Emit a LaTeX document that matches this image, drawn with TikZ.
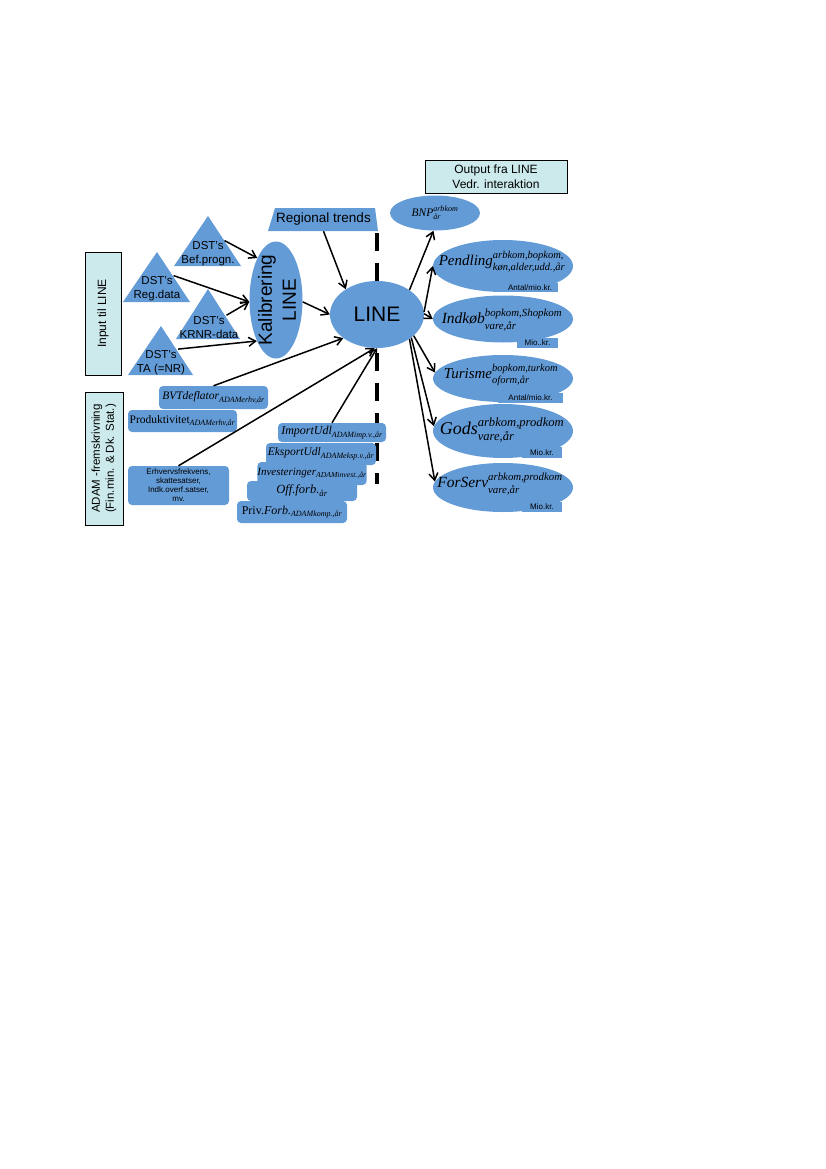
\documentclass[tikz,border=0pt]{standalone}
\usepackage{amsmath}
\usepackage{fontspec}
\setmainfont{Liberation Sans}
\newfontfamily\tms{Liberation Serif}
\usetikzlibrary{arrows.meta,shapes.geometric}
\definecolor{blu}{RGB}{99,155,215}
\definecolor{cyanbox}{RGB}{204,234,236}
\newcommand\fsz[2]{\fontsize{#1}{#2}\selectfont}
\newcommand\olab[3]{$\text{\tms\itshape #1}^{\text{\tms\itshape #2}}_{\text{\tms\itshape #3}}$}
\newcommand\slab[2]{$\text{\tms\itshape #1}_{\text{\tms\itshape #2}}$}
\begin{document}
\begin{tikzpicture}[x=1pt,y=-1pt,
  ell/.style={ellipse, fill=blu, inner sep=0pt},
  rbox/.style={fill=blu, rounded corners=4pt, inner sep=0pt, align=center},
  cbox/.style={fill=cyanbox, draw=black, line width=0.8pt, inner sep=0pt, align=center},
  arr/.style={-{Straight Barb[length=7pt,width=9pt]}, line width=1.5pt},
  txt/.style={inner sep=1pt, align=center, font=\fsz{11.5}{14}},
  unitbox/.style={fill=blu, inner sep=0pt, font=\fsz{8}{9}},
  lbl/.style={inner sep=0pt}]
\useasboundingbox (0,0) rectangle (826,1169);
% divider
\coordinate (dtop) at (377,233);
\coordinate (dbot) at (377,484);
\draw[line width=4.5pt, dash pattern=on 18pt off 12pt] (dtop) -- (dbot);
% triangles and trapezoid
\fill[blu] (208,216) -- (241,266) -- (174,266) -- cycle;
\fill[blu] (157,252) -- (190,302) -- (123,302) -- cycle;
\fill[blu] (208,289) -- (240,339) -- (176,339) -- cycle;
\fill[blu] (161,326) -- (193,375) -- (128,375) -- cycle;
\fill[blu] (275,208) -- (375,208) -- (378,231) -- (268,231) -- cycle;
% ellipses
\node[ell, minimum width=53, minimum height=117] (kal) at (276,300) {};
\node[ell, minimum width=94, minimum height=67, font=\fsz{21}{24}] (line) at (377,314.5) {LINE};
\node[ell, minimum width=90, minimum height=35] (bnp) at (435,213) {};
\node[ell, minimum width=140, minimum height=52] (pend) at (503,266) {};
\node[ell, minimum width=140, minimum height=47] (indk) at (503,319) {};
\node[ell, minimum width=140, minimum height=47] (turi) at (503,378.5) {};
\node[ell, minimum width=140, minimum height=54] (gods) at (503,431) {};
\node[ell, minimum width=140, minimum height=49] (fors) at (503,487.5) {};
% unit labels
\node[unitbox, minimum width=56, minimum height=9] (pendu) at (530,287.5) {Antal/mio.kr.};
\node[unitbox, minimum width=41, minimum height=10] (indku) at (537.5,343) {Mio..kr.};
\node[unitbox, minimum width=65, minimum height=10] (turiu) at (530.5,398) {Antal/mio.kr.};
\node[unitbox, minimum width=40, minimum height=11] (godsu) at (542,452.5) {Mio.kr.};
\node[unitbox, minimum width=40, minimum height=10] (forsu) at (542,507) {Mio.kr.};
% output labels
\node[lbl, font=\fsz{11.5}{14}] (bnpt) at (435,213) {\olab{BNP}{arbkom}{år}};
\node[lbl, font=\fsz{15}{18}] (pendt) at (502,262) {\olab{Pendling}{arbkom,bopkom,}{køn,alder,udd.,år}};
\node[lbl, font=\fsz{15.5}{18}] (indkt) at (502,320) {\olab{Indkøb}{bopkom,Shopkom}{vare,år}};
\node[lbl, font=\fsz{15}{18}] (turit) at (501,375) {\olab{Turisme}{bopkom,turkom}{oform,år}};
\node[lbl, font=\fsz{18}{21}] (godst) at (502,430) {\olab{Gods}{arbkom,prodkom}{vare,år}};
\node[lbl, font=\fsz{15.5}{18}] (forst) at (500,484) {\olab{ForServ}{arbkom,prodkom}{vare,år}};
% left boxes
\node[rbox, minimum width=109, minimum height=23, font=\fsz{11.5}{13}] (bvt) at (213.5,397.5) {\slab{BVTdeflator}{ADAMerhv,år}};
\node[rbox, minimum width=109, minimum height=22, font=\fsz{11.5}{13}] (prod) at (182.5,421) {$\text{\tms Produktivitet}_{\text{\tms\itshape ADAMerhv,år}}$};
\node[rbox, minimum width=101, minimum height=39, font=\fsz{8}{9}] (erh) at (178.5,485.5) {Erhvervsfrekvens,\\skattesatser,\\Indk.overf.satser,\\mv.};
\node[rbox, minimum width=108, minimum height=19, font=\fsz{12}{13}] (imp) at (332,432.5) {\slab{ImportUdl}{ADAMimp.v.,år}};
\node[rbox, minimum width=110, minimum height=22, font=\fsz{11.5}{13}] (eks) at (321,454) {\slab{EksportUdl}{ADAMeksp.v.,år}};
\node[rbox, minimum width=108, minimum height=23, font=\fsz{11}{13}] (inv) at (312,473.5) {\slab{Investeringer}{ADAMinvest.,år}};
\node[rbox, minimum width=110, minimum height=20, font=\fsz{12.5}{14}] (off) at (302,491) {\slab{Off.forb.}{år}};
\node[rbox, minimum width=110, minimum height=22, font=\fsz{12}{13}] (priv) at (292,512) {$\text{\tms Priv.}\text{\tms\itshape Forb.}_{\text{\tms\itshape ADAMkomp.,år}}$};
% cyan boxes
\node[cbox, rotate=90, minimum width=123, minimum height=36, font=\fsz{12}{14}] (inp) at (103,313.5) {Input til LINE};
\node[cbox, rotate=90, minimum width=133, minimum height=38, font=\fsz{11.5}{14}] (adam) at (104,458.5) {ADAM -fremskrivning\\(Fin.min. \& Dk. Stat.)};
\node[cbox, minimum width=142, minimum height=33, font=\fsz{12}{14.5}] (out) at (496,176.5) {Output fra LINE\\Vedr. interaktion};
% triangle texts
\node[txt] (bef) at (208,254) {DST's\\Bef.progn.};
\node[txt] (reg) at (157,289) {DST's\\Reg.data};
\node[txt] (krnr) at (209,327.5) {DST's\\KRNR-data};
\node[txt] (ta) at (161,362.5) {DST's\\TA (=NR)};
\node[inner sep=0pt, minimum height=23, font=\fsz{13.5}{16}] (rt) at (323.5,219.5) {Regional trends};
\node[rotate=90, align=center, inner sep=0pt, font=\fsz{19}{24}] (kalt) at (277,300) {Kalibrering\\LINE};
% connectors
\draw[arr] (bef.39) -- (kal.114);
\draw[arr] (reg.39) -- (kal.184);
\draw[arr] (krnr.35) -- (kal.184);
\draw[arr] (ta.38) -- (kal.245);
\draw[arr] (kal.356) -- (line.180);
\draw[arr] (rt.south) -- (line.141);
\draw[arr] (bvt.north) -- (line.215);
\draw[arr] (erh.north) -- (line.266);
\draw[arr] (imp.north) -- (line.270);
\draw[arr] (line.37) -- (bnp.265);
\draw[arr] (line.3) -- (pend.west);
\draw[arr] (line.1) -- (indk.west);
\draw[arr] (line.330) -- (turi.175);
\draw[arr] (line.326) -- (gods.176);
\draw[arr] (line.323) -- (fors.175);
\end{tikzpicture}
\end{document}
